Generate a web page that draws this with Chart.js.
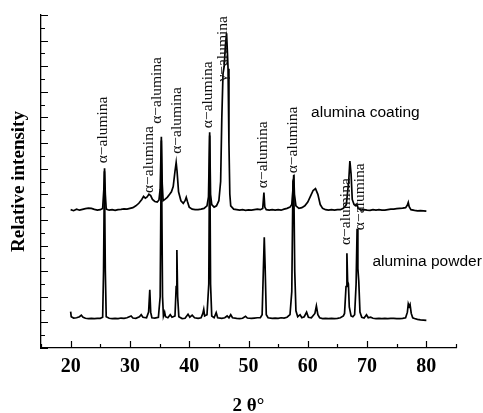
<!DOCTYPE html>
<html>
<head>
<meta charset="utf-8">
<script src="https://cdn.jsdelivr.net/npm/chart.js@4.4.0/dist/chart.umd.min.js"></script>
<style>
  body { margin: 0; background: #fff; }
</style>
</head>
<body>
<canvas id="xrd" width="483" height="413"></canvas>
<script>
// 2 theta positions / relative intensity (offset)
const coatingX = [20.0, 20.5, 21.0, 21.5, 22.0, 22.5, 23.0, 23.5, 24.0, 24.5, 25.0, 25.4, 25.6, 25.72, 25.85, 26.0, 26.5, 27.0, 27.5, 28.0, 28.5, 29.0, 29.5, 30.0, 30.5, 31.0, 31.5, 32.0, 32.3, 32.6, 32.9, 33.2, 33.5, 33.8, 34.2, 34.6, 34.9, 35.1, 35.3, 35.45, 35.6, 35.9, 36.3, 36.7, 37.0, 37.3, 37.6, 37.8, 37.95, 38.2, 38.6, 39.0, 39.3, 39.5, 39.7, 40.0, 40.5, 41.0, 41.5, 42.0, 42.5, 43.0, 43.25, 43.45, 43.6, 43.8, 44.2, 44.6, 45.0, 45.3, 45.5, 45.7, 45.9, 46.1, 46.3, 46.45, 46.55, 46.7, 46.85, 47.0, 47.5, 48.0, 48.5, 49.0, 49.5, 50.0, 50.5, 51.0, 51.5, 52.0, 52.4, 52.6, 52.75, 53.0, 53.5, 54.0, 54.5, 55.0, 55.5, 56.0, 56.5, 57.0, 57.3, 57.5, 57.63, 57.75, 58.0, 58.5, 59.0, 59.5, 60.0, 60.5, 60.9, 61.3, 61.7, 62.1, 62.5, 63.0, 63.5, 64.0, 64.5, 65.0, 65.5, 66.0, 66.5, 66.9, 67.1, 67.3, 67.5, 67.8, 68.1, 68.3, 68.5, 69.0, 69.5, 70.0, 70.5, 71.0, 71.5, 72.0, 72.5, 73.0, 73.5, 74.0, 74.5, 75.0, 75.5, 76.0, 76.5, 76.8, 76.95, 77.1, 77.4, 78.0, 78.5, 79.0, 79.5, 80.0];
const coatingY = [5.40, 5.36, 5.42, 5.38, 5.41, 5.44, 5.46, 5.45, 5.41, 5.38, 5.40, 5.45, 6.20, 7.02, 6.00, 5.42, 5.38, 5.40, 5.37, 5.40, 5.41, 5.43, 5.42, 5.45, 5.48, 5.55, 5.65, 5.80, 5.92, 5.85, 5.90, 6.00, 5.95, 5.80, 5.72, 5.70, 5.78, 6.20, 8.25, 6.40, 5.75, 5.80, 5.88, 6.00, 6.10, 6.30, 6.90, 7.24, 6.90, 6.10, 5.75, 5.65, 5.75, 5.88, 5.72, 5.50, 5.42, 5.40, 5.40, 5.42, 5.45, 5.55, 5.90, 8.42, 6.00, 5.60, 5.50, 5.55, 5.75, 6.50, 9.00, 10.70, 11.00, 11.80, 12.29, 11.50, 10.90, 8.00, 6.00, 5.55, 5.42, 5.40, 5.38, 5.40, 5.37, 5.39, 5.38, 5.40, 5.42, 5.40, 5.45, 6.07, 5.50, 5.40, 5.38, 5.40, 5.38, 5.40, 5.38, 5.42, 5.45, 5.50, 5.60, 6.20, 6.76, 6.00, 5.55, 5.45, 5.48, 5.55, 5.70, 5.95, 6.15, 6.22, 6.00, 5.60, 5.45, 5.40, 5.38, 5.40, 5.38, 5.40, 5.40, 5.45, 5.60, 6.50, 7.30, 6.80, 5.80, 5.60, 5.55, 5.62, 5.45, 5.38, 5.40, 5.38, 5.37, 5.40, 5.38, 5.40, 5.38, 5.38, 5.40, 5.42, 5.42, 5.44, 5.45, 5.46, 5.48, 5.58, 5.68, 5.52, 5.40, 5.37, 5.35, 5.36, 5.35, 5.34];

const powderX = [20.0, 20.1, 20.5, 21.0, 21.5, 21.8, 22.1, 22.5, 23.0, 23.5, 24.0, 24.5, 25.0, 25.4, 25.55, 25.7, 25.85, 26.0, 26.5, 27.0, 27.5, 28.0, 28.5, 29.0, 29.5, 30.2, 30.5, 31.0, 31.6, 31.9, 32.2, 32.8, 33.15, 33.35, 33.5, 33.7, 34.2, 34.8, 35.1, 35.3, 35.5, 35.65, 35.85, 36.0, 36.4, 36.8, 37.1, 37.6, 37.8, 37.92, 38.05, 38.25, 38.8, 39.3, 39.8, 40.1, 40.5, 40.9, 41.5, 42.0, 42.3, 42.45, 42.6, 43.0, 43.3, 43.45, 43.6, 43.8, 44.2, 44.55, 44.8, 45.5, 46.0, 46.4, 46.7, 47.0, 47.3, 48.0, 48.5, 49.0, 49.5, 49.8, 50.5, 51.0, 51.5, 52.0, 52.3, 52.5, 52.66, 52.8, 53.0, 53.3, 54.0, 54.5, 55.0, 55.5, 56.0, 56.5, 57.0, 57.3, 57.5, 57.63, 57.8, 58.0, 58.3, 58.7, 59.0, 59.4, 59.8, 60.1, 60.6, 61.2, 61.45, 61.7, 62.0, 62.5, 63.0, 63.5, 64.0, 64.5, 65.0, 65.5, 66.0, 66.2, 66.45, 66.6, 66.72, 66.85, 67.0, 67.3, 67.6, 67.9, 68.15, 68.32, 68.45, 68.6, 68.8, 69.1, 69.5, 69.9, 70.2, 70.6, 71.0, 71.5, 72.0, 72.5, 73.0, 73.5, 74.0, 74.5, 75.0, 75.5, 76.0, 76.5, 76.8, 76.95, 77.1, 77.25, 77.45, 77.7, 78.0, 78.5, 79.0, 79.5, 80.0];
const powderY = [1.42, 1.22, 1.17, 1.18, 1.22, 1.28, 1.20, 1.16, 1.15, 1.16, 1.15, 1.16, 1.16, 1.20, 3.00, 6.90, 3.00, 1.22, 1.16, 1.15, 1.16, 1.15, 1.17, 1.16, 1.18, 1.25, 1.17, 1.16, 1.22, 1.30, 1.20, 1.18, 1.40, 2.27, 1.40, 1.18, 1.17, 1.20, 2.00, 8.10, 2.00, 1.25, 1.40, 1.22, 1.18, 1.30, 1.20, 1.25, 2.40, 3.83, 2.00, 1.22, 1.15, 1.16, 1.32, 1.20, 1.28, 1.18, 1.16, 1.18, 1.35, 1.51, 1.25, 1.30, 2.50, 8.30, 2.50, 1.25, 1.18, 1.38, 1.18, 1.16, 1.18, 1.25, 1.18, 1.30, 1.18, 1.16, 1.15, 1.16, 1.24, 1.17, 1.16, 1.17, 1.18, 1.18, 1.30, 3.00, 4.32, 3.20, 1.30, 1.18, 1.16, 1.17, 1.16, 1.18, 1.17, 1.20, 1.30, 2.20, 6.50, 6.60, 3.00, 1.45, 1.22, 1.30, 1.18, 1.22, 1.40, 1.20, 1.18, 1.35, 1.64, 1.30, 1.18, 1.15, 1.16, 1.15, 1.16, 1.15, 1.16, 1.18, 1.25, 1.35, 2.40, 3.70, 2.60, 2.50, 1.60, 1.25, 1.22, 1.30, 2.50, 4.65, 3.10, 2.60, 1.40, 1.20, 1.17, 1.30, 1.18, 1.20, 1.16, 1.15, 1.16, 1.15, 1.16, 1.15, 1.16, 1.16, 1.15, 1.15, 1.16, 1.18, 1.40, 1.72, 1.62, 1.70, 1.35, 1.18, 1.15, 1.12, 1.10, 1.09, 1.08];

const xTickLabels = [20, 30, 40, 50, 60, 70, 80];

// peak annotations
const peakText = ["α−alumina", "α−alumina", "α−alumina", "α−alumina", "α−alumina", "γ−alumina", "α−alumina", "α−alumina", "α−alumina", "α−alumina"];
const peakX = [25.47, 33.27, 34.5, 37.9, 43.15, 45.7, 52.48, 57.45, 66.4, 68.8];
const peakY = [7.21, 6.05, 8.75, 7.58, 8.58, 10.4, 6.24, 6.82, 4.02, 4.6];

const seriesNames = ["alumina coating", "alumina powder"];
const seriesNameX = [60.56, 70.9];
const seriesNameY = [9.18, 3.36];

const toPoints = (xs, ys) => xs.map((x, i) => ({ x: x, y: ys[i] }));

const inwardTicks = {
  id: "inwardTicks",
  afterDraw(chart) {
    const ctx = chart.ctx;
    const xs = chart.scales.x;
    const ys = chart.scales.y;
    const area = chart.chartArea;
    ctx.save();
    ctx.strokeStyle = "#000";
    ctx.lineWidth = 1.2;
    ctx.beginPath();
    for (let v = 15; v <= 85; v += 5) {
      const px = Math.round(xs.getPixelForValue(v)) + 0.5;
      const len = v % 10 === 0 ? 7 : 4;
      ctx.moveTo(px, area.bottom);
      ctx.lineTo(px, area.bottom - len);
    }
    for (let v = 0; v <= 13; v += 0.5) {
      const py = Math.round(ys.getPixelForValue(v)) + 0.5;
      const len = Number.isInteger(v) ? 7 : 4;
      ctx.moveTo(area.left, py);
      ctx.lineTo(area.left + len, py);
    }
    ctx.stroke();

    // peak labels, rotated
    ctx.fillStyle = "#111";
    ctx.font = "15.5px 'Liberation Serif', 'Times New Roman', serif";
    ctx.textAlign = "left";
    ctx.textBaseline = "middle";
    peakText.forEach((t, i) => {
      ctx.save();
      ctx.translate(xs.getPixelForValue(peakX[i]), ys.getPixelForValue(peakY[i]));
      ctx.rotate(-Math.PI / 2);
      ctx.fillText(t, 0, 0);
      ctx.restore();
    });

    ctx.fillStyle = "#000";
    ctx.font = "15.5px 'Liberation Sans', Arial, sans-serif";
    seriesNames.forEach((t, i) => {
      ctx.fillText(t, xs.getPixelForValue(seriesNameX[i]), ys.getPixelForValue(seriesNameY[i]));
    });
    ctx.restore();
  }
};

const ctx = document.getElementById("xrd").getContext("2d");
const xrdChart = new Chart(ctx, {
  type: "line",
  data: {
    datasets: [
      {
        label: seriesNames[0],
        data: toPoints(coatingX, coatingY),
        borderColor: "#000",
        borderWidth: 1.7,
        pointRadius: 0,
        tension: 0,
      },
      {
        label: seriesNames[1],
        data: toPoints(powderX, powderY),
        borderColor: "#000",
        borderWidth: 1.7,
        pointRadius: 0,
        tension: 0,
      },
    ],
  },
  options: {
    responsive: false,
    animation: false,
    layout: { padding: { top: 15, right: 27, left: 0, bottom: 0 } },
    plugins: {
      legend: { display: false },
      tooltip: { enabled: false },
    },
    scales: {
      x: {
        type: "linear",
        min: 15,
        max: 85,
        afterBuildTicks: (scale) => {
          scale.ticks = xTickLabels.map((v) => ({ value: v }));
        },
        afterFit: (scale) => {
          scale.height = 65;
        },
        grid: { display: false, drawTicks: false },
        border: { display: true, color: "#000", width: 1.3 },
        ticks: {
          color: "#000",
          padding: 7,
          maxRotation: 0,
          font: { family: "'Liberation Serif', 'Times New Roman', serif", size: 20, weight: "bold" },
        },
        title: {
          display: true,
          text: "2 θ°",
          color: "#000",
          padding: { top: 0, bottom: -4 },
          font: { family: "'Liberation Serif', 'Times New Roman', serif", size: 19, weight: "bold" },
        },
      },
      y: {
        min: 0,
        max: 13,
        afterFit: (scale) => {
          scale.width = 41;
        },
        grid: { display: false, drawTicks: false },
        border: { display: true, color: "#000", width: 1.3 },
        ticks: { display: false },
        title: {
          display: true,
          text: "Relative intensity",
          color: "#000",
          padding: { top: 8, bottom: 0 },
          font: { family: "'Liberation Serif', 'Times New Roman', serif", size: 19, weight: "bold" },
        },
      },
    },
  },
  plugins: [inwardTicks],
});
</script>
</body>
</html>
